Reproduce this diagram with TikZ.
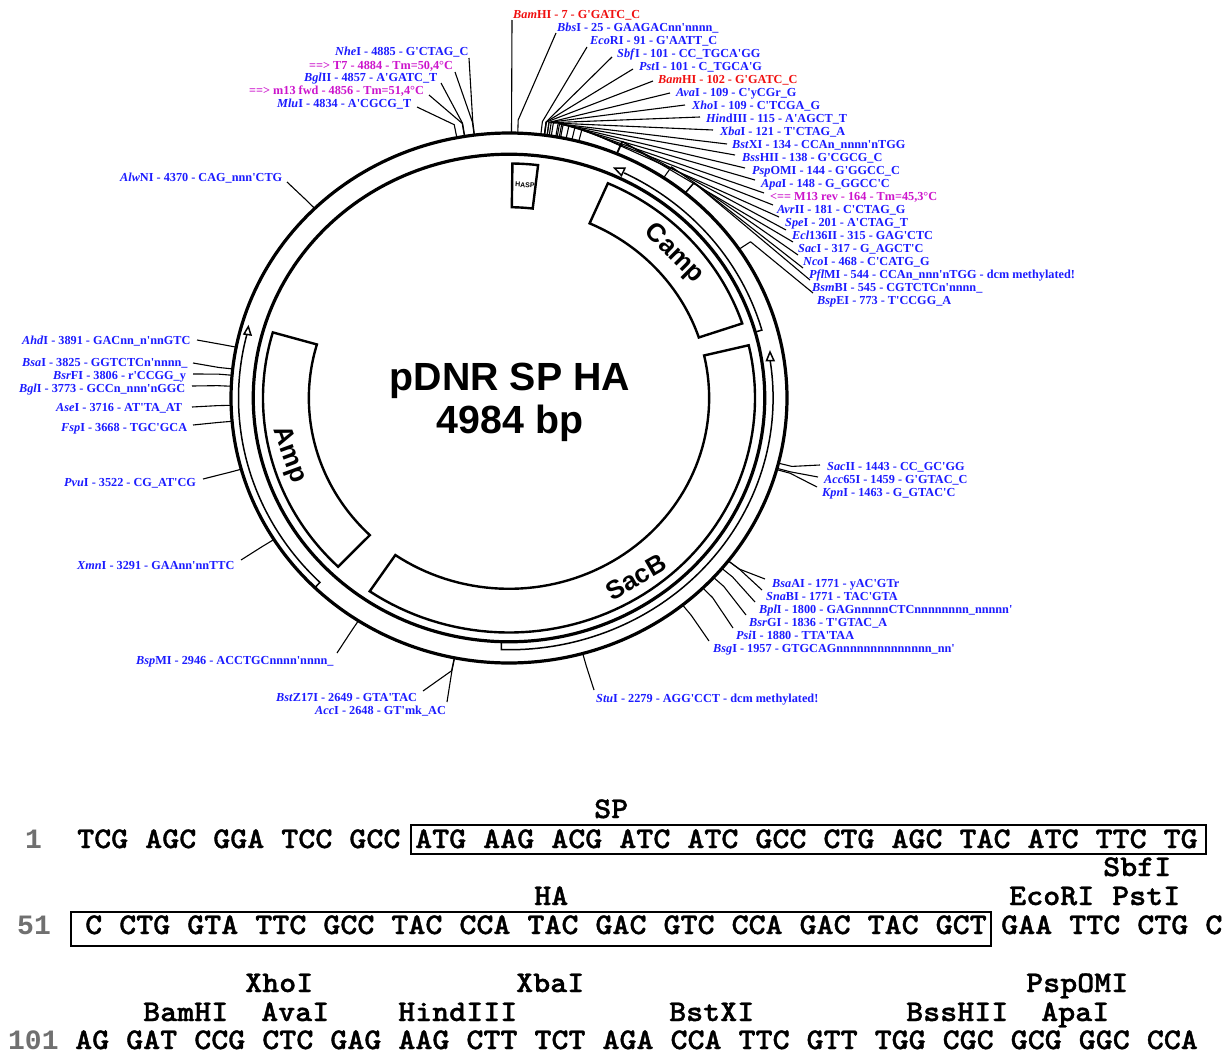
\documentclass[tikz,border=0pt]{standalone}
\usepackage{fontspec}
\newfontfamily\labf{Liberation Serif}
\newfontfamily\hdf{Liberation Sans}
\newfontfamily\numf{Liberation Mono}
\newfontfamily\seqf{lmmonolt10-bold.otf}[FakeBold=1.2]
\definecolor{sblue}{HTML}{1C1CFF}
\definecolor{sred}{HTML}{F01010}
\definecolor{smag}{HTML}{CC14CC}
\definecolor{numgray}{HTML}{707070}
\tikzset{
  lab/.style={anchor=base west,inner sep=0pt,font=\labf\bfseries\fontsize{12.25}{12.25}\selectfont},
  leader/.style={line width=1.1pt,black,line join=round},
  ringline/.style={line width=3.2pt,black},
  featline/.style={line width=2.4pt,black,line join=miter},
  thinline/.style={line width=1.5pt,black},
  headline/.style={line width=1.5pt,black,fill=white,line join=miter},
  featlab/.style={inner sep=0pt,font=\hdf\bfseries\fontsize{26}{26}\selectfont},
  titlelab/.style={inner sep=0pt,anchor=base,font=\hdf\bfseries\fontsize{39.3}{39.3}\selectfont},
  seqt/.style={anchor=base west,inner sep=0pt},
  numt/.style={anchor=base west,inner sep=0pt,text=numgray,font=\numf\bfseries\fontsize{28}{28}\selectfont},
  seqbox/.style={line width=2pt,black},
}
\newcommand{\seqs}[1]{\scalebox{1.08}[1]{\fontsize{30}{30}\selectfont\seqf #1}}
\newcommand{\site}[9]{%
  \node[lab,text=#4] (#1) at (#2,#3) {\textit{#5}#6};
  \coordinate (#1s) at (#8,#9);
  \coordinate (#1e) at ({509+278*1.05*cos(-90+#7*0.07223114)},{398+265*1.05*sin(-90+#7*0.07223114)});
  \coordinate (#1r) at ({509+278*cos(-90+#7*0.07223114)},{398+265*sin(-90+#7*0.07223114)});
  \draw[leader] (#1s) -- (#1e) -- (#1r);
}
\newcommand{\featbox}[2]{%
  \draw[featline] plot[domain=0:1,samples=70] ({#1+(#2-#1)*\x}:0.885)
    -- plot[domain=0:1,samples=70] ({#2+(#1-#2)*\x}:0.72) -- cycle;
}
\begin{document}
\begin{tikzpicture}[x=1pt,y=-1pt]
\useasboundingbox (0,0) rectangle (1229,1055);
\fill[white] (0,0) rectangle (1229,1055);

\begin{scope}[shift={(509,398)},x=278pt,y=-265pt]
  \draw[ringline] plot[domain=0:360,samples=241] (\x:1) -- cycle;
  \draw[ringline] plot[domain=0:360,samples=241] (\x:0.92) -- cycle;
  \featbox{-66.3}{-18.5}
  \featbox{-13}{124.6}
  \featbox{134}{196.3}
  \featbox{-89.2}{-83.2}
  % thin arrows
  \draw[thinline] plot[domain=0:1,samples=60] ({-64+(-15.7+64)*\x}:0.945) -- (-15.7:0.92);
  \draw[thinline] plot[domain=0:1,samples=90] ({-8.5+(91.7+8.5)*\x}:0.95) -- (91.7:0.92);
  \draw[thinline] plot[domain=0:1,samples=60] ({194.3+(134.3-194.3)*\x}:0.973) -- (134.3:1);
\end{scope}
\draw[headline] (614.5,168) -- (625,168) -- (621.5,175.5) -- cycle;
\draw[headline] (770,352) -- (766.5,360.7) -- (774,360.7) -- cycle;
\draw[headline] (248.3,326.7) -- (244,334) -- (251,335) -- cycle;

% centre and feature labels
\node[titlelab] (title1) at (510,390) {pDNR SP HA};
\node[titlelab] (title2) at (510,433) {4984 bp};
\node[featlab,rotate=-45] (camp) at (674,254) {Camp};
\node[featlab,rotate=30] (sacb) at (636,577) {SacB};
\node[featlab,rotate=-70] (amp) at (289,455) {Amp};
\node[inner sep=0pt,rotate=-4,font=\hdf\bfseries\fontsize{7}{7}\selectfont] (hasp) at (525,185) {HASP};

% top
\site{bamA}{513}{18}{sred}{Bam}{HI - 7 - G'GATC\_C}{7}{512}{20}
\site{bbs}{557}{31}{sblue}{Bbs}{I - 25 - GAAGACnn'nnnn\_}{25}{556}{33}
\site{eco}{590}{44}{sblue}{Eco}{RI - 91 - G'AATT\_C}{91}{587}{47}
\site{sbf}{617}{57}{sblue}{Sbf}{I - 101 - CC\_TGCA'GG}{101}{612}{57}
\site{pst}{639}{70}{sblue}{Pst}{I - 101 - C\_TGCA'G}{101}{633}{69}
\site{bamB}{658}{83}{sred}{Bam}{HI - 102 - G'GATC\_C}{102}{653}{81}
\site{ava}{676}{96}{sblue}{Ava}{I - 109 - C'yCGr\_G}{109}{670}{93}
\site{xho}{692}{109}{sblue}{Xho}{I - 109 - C'TCGA\_G}{109}{685}{105}
\site{hind}{706}{122}{sblue}{Hin}{dIII - 115 - A'AGCT\_T}{115}{700}{117}
\site{xba}{720}{135}{sblue}{Xba}{I - 121 - T'CTAG\_A}{121}{713}{130}
\site{bstx}{732}{148}{sblue}{Bst}{XI - 134 - CCAn\_nnnn'nTGG}{134}{727}{144}
\site{bssh}{742}{161}{sblue}{Bss}{HII - 138 - G'CGCG\_C}{138}{735}{155}
\site{psp}{752}{174}{sblue}{Psp}{OMI - 144 - G'GGCC\_C}{144}{745}{168}
\site{apa}{761}{187}{sblue}{Apa}{I - 148 - G\_GGCC'C}{148}{755}{180}
\site{mrev}{770}{200}{smag}{}{<== M13 rev - 164 - Tm=45,3°C}{164}{764}{193}
\site{avr}{777}{213}{sblue}{Avr}{II - 181 - C'CTAG\_G}{181}{773}{205}
\site{spe}{785}{226}{sblue}{Spe}{I - 201 - A'CTAG\_T}{201}{779}{217}
\site{ecl}{792}{239}{sblue}{Ecl}{136II - 315 - GAG'CTC}{315}{786}{230}
\site{sacA}{798}{252}{sblue}{Sac}{I - 317 - G\_AGCT'C}{317}{793}{242}
\site{nco}{803}{265}{sblue}{Nco}{I - 468 - C'CATG\_G}{468}{798}{255}
\site{pfl}{809}{278}{sblue}{Pfl}{MI - 544 - CCAn\_nnn'nTGG - dcm methylated!}{544}{803}{268}
\site{bsm}{812}{291}{sblue}{Bsm}{BI - 545 - CGTCTCn'nnnn\_}{545}{810}{280}
\site{bspe}{817}{304}{sblue}{Bsp}{EI - 773 - T'CCGG\_A}{773}{813}{293}
% right
\site{sacii}{827}{470}{sblue}{Sac}{II - 1443 - CC\_GC'GG}{1443}{820}{465}
\site{acc}{824}{483}{sblue}{Acc}{65I - 1459 - G'GTAC\_C}{1459}{818}{477}
\site{kpn}{822}{496}{sblue}{Kpn}{I - 1463 - G\_GTAC'C}{1463}{817}{487}
\site{bsaa}{772}{587}{sblue}{Bsa}{AI - 1771 - yAC'GTr}{1771}{765}{579}
\site{sna}{766}{600}{sblue}{Sna}{BI - 1771 - TAC'GTA}{1771}{762}{590}
\site{bpl}{759}{613}{sblue}{Bpl}{I - 1800 - GAGnnnnnCTCnnnnnnnn\_nnnnn'}{1800}{755}{602}
\site{bsrg}{749}{626}{sblue}{Bsr}{GI - 1836 - T'GTAC\_A}{1836}{746}{615}
\site{psi}{736}{639}{sblue}{Psi}{I - 1880 - TTA'TAA}{1880}{733}{628}
\site{bsg}{713}{652}{sblue}{Bsg}{I - 1957 - GTGCAGnnnnnnnnnnnnnn\_nn'}{1957}{709}{641}
% bottom
\site{stu}{596}{702}{sblue}{Stu}{I - 2279 - AGG'CCT - dcm methylated!}{2279}{594}{690}
\site{bstz}{276}{701}{sblue}{Bst}{Z17I - 2649 - GTA'TAC}{2649}{423}{691}
\site{accI}{315}{714}{sblue}{Acc}{I - 2648 - GT'mk\_AC}{2648}{447}{702}
\site{bspm}{136}{664}{sblue}{Bsp}{MI - 2946 - ACCTGCnnnn'nnnn\_}{2946}{337}{653}
\site{xmn}{77}{569}{sblue}{Xmn}{I - 3291 - GAAnn'nnTTC}{3291}{241}{560}
% left
\site{pvu}{64}{486}{sblue}{Pvu}{I - 3522 - CG\_AT'CG}{3522}{203}{479}
\site{fsp}{61}{431}{sblue}{Fsp}{I - 3668 - TGC'GCA}{3668}{193}{425}
\site{ase}{56}{411}{sblue}{Ase}{I - 3716 - AT'TA\_AT}{3716}{192}{407}
\site{bgl}{19}{392}{sblue}{Bgl}{I - 3773 - GCCn\_nnn'nGGC}{3773}{192}{386}
\site{bsrf}{53}{379}{sblue}{Bsr}{FI - 3806 - r'CCGG\_y}{3806}{193}{374}
\site{bsa}{22}{366}{sblue}{Bsa}{I - 3825 - GGTCTCn'nnnn\_}{3825}{193}{363}
\site{ahd}{22}{344}{sblue}{Ahd}{I - 3891 - GACnn\_n'nnGTC}{3891}{197}{340}
\site{alw}{120}{181}{sblue}{Alw}{NI - 4370 - CAG\_nnn'CTG}{4370}{287}{182}
\site{mlu}{277}{107}{sblue}{Mlu}{I - 4834 - A'CGCG\_T}{4834}{417}{107}
\site{mfwd}{249}{94}{smag}{}{==> m13 fwd - 4856 - Tm=51,4°C}{4856}{429}{95}
\site{bglii}{304}{81}{sblue}{Bgl}{II - 4857 - A'GATC\_T}{4857}{441}{83}
\site{tseven}{309}{69}{smag}{}{==> T7 - 4884 - Tm=50,4°C}{4884}{455}{72}
\site{nhe}{335}{55}{sblue}{Nhe}{I - 4885 - G'CTAG\_C}{4885}{469}{58}

% sequence
\draw[seqbox] (411,825) rectangle (1206,854);
\draw[seqbox] (71,912) rectangle (991,946);
\node[numt] (n1) at (25,848) {1};
\node[numt] (n51) at (17,934) {51};
\node[numt] (n101) at (8,1049) {101};
\node[seqt] (s1a) at (77,848) {\seqs{TCG AGC GGA TCC GCC}};
\node[seqt] (s1b) at (415,848) {\seqs{ATG AAG ACG ATC ATC GCC CTG AGC TAC ATC TTC TG}};
\node[seqt] (s2a) at (85,934) {\seqs{C CTG GTA TTC GCC TAC CCA TAC GAC GTC CCA GAC TAC GCT}};
\node[seqt] (s2b) at (1001,934) {\seqs{GAA TTC CTG C}};
\node[seqt] (s3) at (75,1049) {\seqs{AG GAT CCG CTC GAG AAG CTT TCT AGA CCA TTC GTT TGG CGC GCG GGC CCA}};
\node[seqt] (sp) at (594,818) {\seqs{SP}};
\node[seqt] (sbfl) at (1103,876) {\seqs{SbfI}};
\node[seqt] (ecol) at (1009,905) {\seqs{EcoRI}};
\node[seqt] (pstl) at (1112,905) {\seqs{PstI}};
\node[seqt] (ha) at (534,905) {\seqs{HA}};
\node[seqt] (xhol) at (245,992) {\seqs{XhoI}};
\node[seqt] (xbal) at (516,992) {\seqs{XbaI}};
\node[seqt] (pspl) at (1026,992) {\seqs{PspOMI}};
\node[seqt] (baml) at (143,1021) {\seqs{BamHI}};
\node[seqt] (aval) at (261,1021) {\seqs{AvaI}};
\node[seqt] (hindl) at (398,1021) {\seqs{HindIII}};
\node[seqt] (bstl) at (669,1021) {\seqs{BstXI}};
\node[seqt] (bssl) at (906,1021) {\seqs{BssHII}};
\node[seqt] (apal) at (1041,1021) {\seqs{ApaI}};
\end{tikzpicture}
\end{document}
